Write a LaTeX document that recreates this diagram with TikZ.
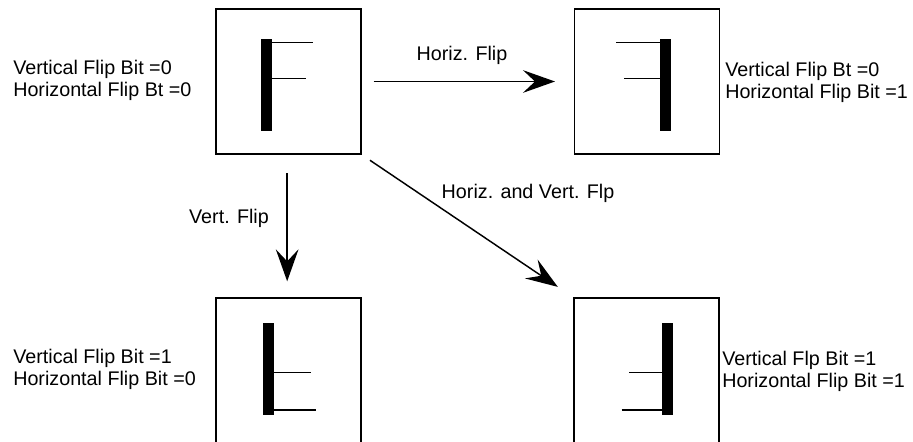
\documentclass[tikz,border=0pt]{standalone}
\usepackage{fontspec}
\setmainfont{Liberation Sans}
\usetikzlibrary{arrows.meta}

\tikzset{
  flipbox/.style={draw, line width=1pt, minimum width=108.75pt, minimum height=108.75pt, inner sep=0pt},
  fliparrow/.style={line width=1.1pt, -{Stealth[length=24pt,width=17pt,inset=9pt]}},
  bitlabel/.style={align=left, inner sep=0pt, font=\fontsize{14.8}{16.5}\selectfont},
  arrowlabel/.style={inner sep=0pt, font=\fontsize{14.8}{16.5}\selectfont},
  arm/.style={line width=1.1pt},
}

\begin{document}
\begin{tikzpicture}[x=0.75pt,y=0.75pt,yscale=-1,xscale=1]
\useasboundingbox (0,0) rectangle (913,442);

%Boxes
\node[flipbox] (tl) at (288.5,81.5) {};
\node[flipbox] (tr) at (646.8,81.5) {};
\node[flipbox] (bl) at (288.5,370.5) {};
\node[flipbox] (br) at (646.5,370.5) {};

%Glyph: normal
\fill (261,39) rectangle (271.5,131);
\draw[arm] (271.5,42.7) -- (313,42.7);
\draw[arm] (271.5,78.3) -- (305.7,78.3);
%Glyph: horizontal flip
\fill (660,39) rectangle (670.7,131);
\draw[arm] (616,42.7) -- (660,42.7);
\draw[arm] (624,78.3) -- (660,78.3);
%Glyph: vertical flip
\fill (263.3,323.3) rectangle (274.3,415);
\draw[arm] (274.3,372.3) -- (311,372.3);
\draw[arm] (274.3,410) -- (316,410);
%Glyph: both flips
\fill (662.3,323.3) rectangle (672.7,415);
\draw[arm] (629.3,372.3) -- (662.3,372.3);
\draw[arm] (621.7,410) -- (662.3,410);

%Arrows
\draw[fliparrow, shorten <=9pt, shorten >=14pt] (tl.east) -- (tr.west);
\draw[fliparrow, shorten <=14pt, shorten >=12pt] ([xshift=-1pt]tl.south) -- ([xshift=-1pt]bl.north);
\draw[fliparrow, shorten <=7.5pt, shorten >=14pt] (tl.south east) -- (br.north west);

%Arrow labels
\node[arrowlabel] (hlab) at (462,55) {Horiz. Flip};
\node[arrowlabel] (vlab) at (229,218) {Vert. Flip};
\node[arrowlabel] (hvlab) at (528,193) {Horiz. and Vert. Flp};

%Bit labels
\node[bitlabel, anchor=west] (tlbits) at (13,80.5) {Vertical Flip Bit =0\\Horizontal Flip Bt =0};
\node[bitlabel, anchor=west] (trbits) at (725,82) {Vertical Flip Bt =0\\Horizontal Flip Bit =1};
\node[bitlabel, anchor=west] (blbits) at (13,369.5) {Vertical Flip Bit =1\\Horizontal Flip Bit =0};
\node[bitlabel, anchor=west] (brbits) at (722,371) {Vertical Flp Bit =1\\Horizontal Flip Bit =1};

\end{tikzpicture}
\end{document}
